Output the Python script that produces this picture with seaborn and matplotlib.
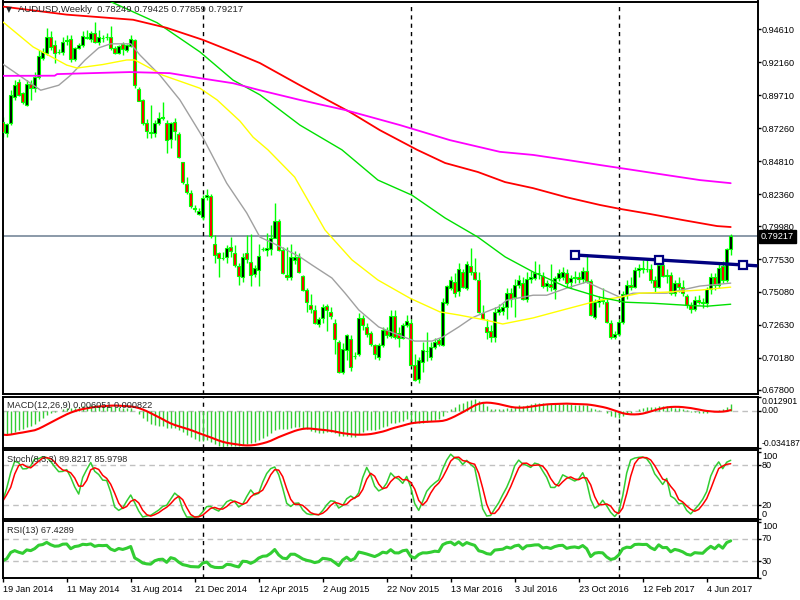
import numpy as np
import pandas as pd
import matplotlib
matplotlib.use("Agg")
import matplotlib.pyplot as plt
import seaborn as sns

# AUDUSD weekly candles, week 0 = 19 Jan 2014
opens = [0.8774, 0.8691, 0.8766, 0.8958, 0.9070, 0.8986, 0.8898, 0.9058, 0.9028, 0.9103,
         0.9245, 0.9287, 0.9402, 0.9345, 0.9290, 0.9295, 0.9375, 0.9387, 0.9237, 0.9320,
         0.9345, 0.9400, 0.9390, 0.9432, 0.9370, 0.9395, 0.9402, 0.9407, 0.9320, 0.9282,
         0.9349, 0.9307, 0.9337, 0.9382, 0.9020, 0.8936, 0.8761, 0.8697, 0.8691, 0.8761,
         0.8798, 0.8766, 0.8648, 0.8773, 0.8679, 0.8472, 0.8310, 0.8245, 0.8131, 0.8088,
         0.8068, 0.8213, 0.8218, 0.7868, 0.7796, 0.7759, 0.7771, 0.7843, 0.7798, 0.7704,
         0.7621, 0.7796, 0.7734, 0.7641, 0.7671, 0.7825, 0.7818, 0.7831, 0.7913, 0.8038,
         0.7823, 0.7634, 0.7616, 0.7746, 0.7766, 0.7626, 0.7521, 0.7412, 0.7374, 0.7269,
         0.7312, 0.7404, 0.7362, 0.7274, 0.7137, 0.6916, 0.7074, 0.7162, 0.7031, 0.7049,
         0.7312, 0.7249, 0.7204, 0.7112, 0.7021, 0.7114, 0.7224, 0.7184, 0.7329, 0.7204,
         0.7169, 0.7259, 0.7280, 0.6965, 0.6861, 0.6989, 0.7069, 0.7024, 0.7102, 0.7149,
         0.7112, 0.7424, 0.7541, 0.7584, 0.7512, 0.7656, 0.7536, 0.7701, 0.7656, 0.7596,
         0.7349, 0.7249, 0.7219, 0.7174, 0.7359, 0.7363, 0.7400, 0.7497, 0.7472, 0.7559,
         0.7572, 0.7459, 0.7602, 0.7609, 0.7647, 0.7630, 0.7552, 0.7567, 0.7530, 0.7609,
         0.7620, 0.7652, 0.7584, 0.7609, 0.7622, 0.7602, 0.7667, 0.7592, 0.7325, 0.7434,
         0.7447, 0.7434, 0.7280, 0.7170, 0.7195, 0.7288, 0.7485, 0.7559, 0.7547, 0.7672,
         0.7684, 0.7677, 0.7682, 0.7597, 0.7542, 0.7709, 0.7627, 0.7634, 0.7497, 0.7577,
         0.7547, 0.7480, 0.7412, 0.7380, 0.7447, 0.7434, 0.7427, 0.7527, 0.7622, 0.7559,
         0.7700, 0.7597, 0.78249]
highs = [0.8807, 0.8767, 0.9008, 0.9083, 0.9094, 0.8994, 0.9083, 0.9084, 0.9145, 0.9307,
         0.9320, 0.9469, 0.9445, 0.9382, 0.9314, 0.9402, 0.9420, 0.9420, 0.9332, 0.9359,
         0.9445, 0.9457, 0.9445, 0.9512, 0.9457, 0.9420, 0.9432, 0.9482, 0.9334, 0.9344,
         0.9370, 0.9354, 0.9420, 0.9387, 0.9034, 0.8942, 0.8797, 0.8899, 0.8787, 0.8848,
         0.8923, 0.8786, 0.8773, 0.8798, 0.8699, 0.8477, 0.8365, 0.8265, 0.8156, 0.8131,
         0.8230, 0.8277, 0.8240, 0.7931, 0.7806, 0.7806, 0.7856, 0.7918, 0.7856, 0.7724,
         0.7796, 0.7931, 0.7938, 0.7706, 0.7863, 0.7843, 0.7943, 0.8006, 0.8170, 0.8048,
         0.7843, 0.7843, 0.7863, 0.7813, 0.7796, 0.7631, 0.7541, 0.7496, 0.7411, 0.7319,
         0.7416, 0.7416, 0.7399, 0.7304, 0.7149, 0.7129, 0.7199, 0.7187, 0.7062, 0.7349,
         0.7339, 0.7274, 0.7219, 0.7124, 0.7129, 0.7249, 0.7249, 0.7374, 0.7374, 0.7249,
         0.7279, 0.7339, 0.7309, 0.7049, 0.7021, 0.7134, 0.7209, 0.7139, 0.7164, 0.7169,
         0.7466, 0.7561, 0.7626, 0.7646, 0.7726, 0.7676, 0.7736, 0.7833, 0.7761, 0.7656,
         0.7409, 0.7309, 0.7259, 0.7399, 0.7416, 0.7426, 0.7536, 0.7536, 0.7606, 0.7636,
         0.7616, 0.7656, 0.7666, 0.7736, 0.7716, 0.7656, 0.7596, 0.7716, 0.7626, 0.7676,
         0.7696, 0.7676, 0.7636, 0.7666, 0.7656, 0.7696, 0.7794, 0.7606, 0.7456, 0.7476,
         0.7536, 0.7466, 0.7299, 0.7219, 0.7309, 0.7516, 0.7596, 0.7616, 0.7696, 0.7716,
         0.7746, 0.7756, 0.7716, 0.7626, 0.7756, 0.7756, 0.7676, 0.7656, 0.7596, 0.7616,
         0.7596, 0.7490, 0.7436, 0.7476, 0.7486, 0.7466, 0.7546, 0.7646, 0.7646, 0.7716,
         0.7736, 0.7835, 0.79425]
lows = [0.8661, 0.8662, 0.8748, 0.8936, 0.8967, 0.8907, 0.8891, 0.8936, 0.8998, 0.9095,
        0.9234, 0.9270, 0.9307, 0.9207, 0.9274, 0.9270, 0.9345, 0.9220, 0.9227, 0.9314,
        0.9332, 0.9387, 0.9370, 0.9357, 0.9345, 0.9370, 0.9382, 0.9307, 0.9274, 0.9274,
        0.9270, 0.9294, 0.9332, 0.9027, 0.8927, 0.8747, 0.8652, 0.8652, 0.8661, 0.8748,
        0.8787, 0.8539, 0.8577, 0.8636, 0.8502, 0.8310, 0.8240, 0.8130, 0.8106, 0.8081,
        0.8043, 0.8193, 0.7913, 0.7721, 0.7621, 0.7746, 0.7721, 0.7771, 0.7696, 0.7559,
        0.7584, 0.7721, 0.7551, 0.7616, 0.7551, 0.7813, 0.7776, 0.7784, 0.7906, 0.7813,
        0.7641, 0.7596, 0.7596, 0.7716, 0.7646, 0.7516, 0.7359, 0.7349, 0.7269, 0.7249,
        0.7279, 0.7219, 0.7309, 0.7044, 0.6906, 0.6901, 0.7001, 0.6921, 0.7008, 0.7029,
        0.7224, 0.7174, 0.7109, 0.7011, 0.7006, 0.7099, 0.7169, 0.7169, 0.7159, 0.7099,
        0.7159, 0.7249, 0.6956, 0.6848, 0.6831, 0.6911, 0.6996, 0.7006, 0.7084, 0.7109,
        0.7104, 0.7409, 0.7521, 0.7467, 0.7479, 0.7536, 0.7526, 0.7631, 0.7596, 0.7349,
        0.7304, 0.7159, 0.7139, 0.7139, 0.7339, 0.7339, 0.7304, 0.7399, 0.7325, 0.7536,
        0.7446, 0.7436, 0.7576, 0.7596, 0.7606, 0.7536, 0.7516, 0.7516, 0.7456, 0.7586,
        0.7596, 0.7546, 0.7536, 0.7576, 0.7576, 0.7576, 0.7576, 0.7329, 0.7309, 0.7396,
        0.7416, 0.7279, 0.7159, 0.7159, 0.7179, 0.7269, 0.7456, 0.7526, 0.7536, 0.7616,
        0.7646, 0.7656, 0.7576, 0.7506, 0.7536, 0.7616, 0.7576, 0.7486, 0.7476, 0.7506,
        0.7476, 0.7390, 0.7349, 0.7370, 0.7416, 0.7389, 0.7396, 0.7496, 0.7526, 0.7536,
        0.7576, 0.7581, 0.77859]
closes = [0.8699, 0.8756, 0.8970, 0.9045, 0.8975, 0.8924, 0.9058, 0.9028, 0.9108, 0.9263,
          0.9295, 0.9407, 0.9332, 0.9282, 0.9294, 0.9370, 0.9379, 0.9237, 0.9320, 0.9345,
          0.9412, 0.9402, 0.9432, 0.9370, 0.9402, 0.9397, 0.9405, 0.9320, 0.9282, 0.9337,
          0.9314, 0.9345, 0.9387, 0.9045, 0.8931, 0.8766, 0.8707, 0.8687, 0.8766, 0.8798,
          0.8806, 0.8641, 0.8761, 0.8706, 0.8514, 0.8327, 0.8252, 0.8148, 0.8128, 0.8113,
          0.8205, 0.8232, 0.7923, 0.7784, 0.7759, 0.7764, 0.7838, 0.7813, 0.7709, 0.7626,
          0.7771, 0.7751, 0.7634, 0.7684, 0.7776, 0.7828, 0.7838, 0.7913, 0.8038, 0.7818,
          0.7646, 0.7616, 0.7766, 0.7766, 0.7659, 0.7521, 0.7434, 0.7379, 0.7279, 0.7304,
          0.7399, 0.7374, 0.7329, 0.7162, 0.6916, 0.7087, 0.7187, 0.6953, 0.7029, 0.7312,
          0.7262, 0.7199, 0.7124, 0.7044, 0.7117, 0.7224, 0.7187, 0.7329, 0.7174, 0.7169,
          0.7259, 0.7289, 0.6965, 0.6853, 0.7001, 0.7074, 0.7071, 0.7099, 0.7139, 0.7124,
          0.7437, 0.7551, 0.7596, 0.7499, 0.7676, 0.7546, 0.7716, 0.7656, 0.7606, 0.7359,
          0.7309, 0.7209, 0.7174, 0.7359, 0.7379, 0.7400, 0.7497, 0.7456, 0.7559, 0.7597,
          0.7459, 0.7602, 0.7617, 0.7647, 0.7652, 0.7552, 0.7577, 0.7542, 0.7609, 0.7647,
          0.7657, 0.7577, 0.7609, 0.7622, 0.7602, 0.7667, 0.7592, 0.7338, 0.7434, 0.7452,
          0.7442, 0.7288, 0.7170, 0.7195, 0.7288, 0.7492, 0.7559, 0.7547, 0.7672, 0.7684,
          0.7677, 0.7682, 0.7597, 0.7542, 0.7709, 0.7627, 0.7634, 0.7497, 0.7577, 0.7547,
          0.7497, 0.7412, 0.7380, 0.7447, 0.7434, 0.7427, 0.7527, 0.7622, 0.7559, 0.7684,
          0.7597, 0.7825, 0.79217]

# moving averages as (week, price) points
ma_gray_w = [0, 9.5, 14, 17, 20.6, 24, 27, 32, 34.3, 39.3, 44.3, 50, 56, 61, 64.3, 67.6,
             74.3, 77.3, 82.3, 85.6, 89, 94, 99, 103, 107.3, 110, 114, 117.3, 120.6, 124,
             126, 132.6, 136, 141, 146, 149.3, 154.3, 157.6, 166, 174.3, 182]
ma_gray_p = [0.9203, 0.9008, 0.9045, 0.9120, 0.9233, 0.9323, 0.9353, 0.9353, 0.9270, 0.9120,
             0.8936, 0.8659, 0.8317, 0.8096, 0.7916, 0.7871, 0.7769, 0.7709, 0.7612, 0.7499,
             0.7375, 0.7248, 0.7188, 0.7143, 0.7143, 0.7173, 0.7248, 0.7315, 0.7357, 0.7397,
             0.7447, 0.7484, 0.7484, 0.7537, 0.7582, 0.7537, 0.7469, 0.7499, 0.7499, 0.7552,
             0.7574]
ma_yellow_w = [0, 7.6, 16, 18.6, 25, 31, 33, 36.8, 40, 49.3, 53.6, 59.3, 62.6, 66.3, 73,
               80.6, 87.3, 93.8, 101.8, 109.3, 113.8, 120.6, 125, 132.6, 141, 149.3, 154.3,
               159.3, 166, 174.3, 182]
ma_yellow_p = [0.9517, 0.9330, 0.9195, 0.9173, 0.9199, 0.9233, 0.9233, 0.9173, 0.9120, 0.9023,
               0.8936, 0.8779, 0.8659, 0.8565, 0.8362, 0.7968, 0.7747, 0.7597, 0.7462, 0.7360,
               0.7338, 0.7300, 0.7270, 0.7315, 0.7382, 0.7447, 0.7469, 0.7499, 0.7507, 0.7522,
               0.7544]
ma_green_w = [22, 26.8, 38.6, 49.3, 57.6, 64.3, 74.3, 84.8, 93.8, 102.3, 110.6, 118.8, 125.6,
              132.6, 141, 149.3, 155.6, 162.6, 171, 176, 182]
ma_green_p = [0.9724, 0.9669, 0.9510, 0.9293, 0.9083, 0.8974, 0.8749, 0.8565, 0.8340, 0.8228,
              0.8058, 0.7916, 0.7769, 0.7657, 0.7544, 0.7469, 0.7432, 0.7424, 0.7409, 0.7402,
              0.7417]
ma_red_w = [0, 16, 32.6, 41, 50, 57.6, 64.3, 74.3, 86.8, 94.3, 103.6, 110.6, 118.8, 125.6,
            132.6, 141, 149.3, 154.3, 161.8, 170, 178.6, 182]
ma_red_p = [0.9630, 0.9570, 0.9532, 0.9472, 0.9383, 0.9293, 0.9210, 0.9045, 0.8846, 0.8711,
            0.8565, 0.8467, 0.8400, 0.8325, 0.8280, 0.8212, 0.8155, 0.8126, 0.8088, 0.8043,
            0.7998, 0.7991]
ma_magenta_w = [0, 13, 13.6, 31.8, 41.8, 49.3, 57.6, 64.3, 74.3, 85.6, 99.3, 111.8, 124.3,
                132.6, 141, 149.3, 157.6, 166, 174.3, 182]
ma_magenta_p = [0.9115, 0.9116, 0.9128, 0.9143, 0.9135, 0.9098, 0.9060, 0.9008, 0.8936, 0.8861,
                0.8749, 0.8637, 0.8550, 0.8527, 0.8490, 0.8452, 0.8415, 0.8377, 0.8340, 0.8317]

trend_w = [143.1, 164.1, 185.1]
trend_p = [0.7783, 0.7746, 0.7709]
last_price = 0.79217

price_ticks = [0.94610, 0.92160, 0.89710, 0.87260, 0.84810, 0.82360,
               0.79980, 0.77530, 0.75080, 0.72630, 0.70180, 0.67800]
date_weeks = [0, 16, 32, 48, 64, 80, 96, 112, 128, 144, 160, 176]
date_labels = ["19 Jan 2014", "11 May 2014", "31 Aug 2014", "21 Dec 2014", "12 Apr 2015",
               "2 Aug 2015", "22 Nov 2015", "13 Mar 2016", "3 Jul 2016", "23 Oct 2016",
               "12 Feb 2017", "4 Jun 2017"]
separator_weeks = [50, 102, 154]

# indicator state carried in from before the first visible week (2013 downtrend)
macd_seed_fast, macd_seed_slow = 0.9100, 0.9300
rsi_seed_gain, rsi_seed_loss = 0.0030, 0.0060

o, h, l, c = (np.array(v) for v in (opens, highs, lows, closes))
weeks = np.arange(len(c))


def ema(values, start, n):
    k = 2.0 / (n + 1)
    out, e = [], start
    for v in values:
        e = e + k * (v - e)
        out.append(e)
    return np.array(out)


macd = ema(c, macd_seed_fast, 12) - ema(c, macd_seed_slow, 26)
macd_sig = pd.Series(macd).rolling(9, min_periods=1).mean().values

cs, hs, ls = pd.Series(c), pd.Series(h), pd.Series(l)
ll = ls.rolling(8, min_periods=1).min()
hh = hs.rolling(8, min_periods=1).max()
stoch_k = 100 * (cs - ll).rolling(3, min_periods=1).sum() / (hh - ll).rolling(3, min_periods=1).sum()
stoch_d = stoch_k.rolling(3, min_periods=1).mean()

delta = np.diff(np.concatenate([[o[0]], c]))
g, lo = rsi_seed_gain, rsi_seed_loss
rsi = []
for d in delta:
    g = (g * 12 + max(d, 0)) / 13
    lo = (lo * 12 + max(-d, 0)) / 13
    rsi.append(100 - 100 / (1 + g / lo))
rsi = np.array(rsi)

sns.set_theme(style="white", rc={"axes.edgecolor": "black", "axes.linewidth": 1.4})
plt.rcParams["font.family"] = ["Liberation Sans", "DejaVu Sans"]
FS = 6.6

fig = plt.figure(figsize=(8, 6), dpi=100)
fig.patch.set_facecolor("white")
L, Wd = 2.5 / 800, 755 / 800
ax_p = fig.add_axes([L, 206 / 600, Wd, 392.5 / 600])
ax_m = fig.add_axes([L, 151.7 / 600, Wd, 51.6 / 600])
ax_s = fig.add_axes([L, 80.7 / 600, Wd, 69.3 / 600])
ax_r = fig.add_axes([L, 21.7 / 600, Wd, 57.6 / 600])
x_right = 188.7

# price panel
ax_p.axhline(last_price, color="#778899", lw=1.2, zorder=1)
ax_p.vlines(weeks, l, h, color="#00FF00", lw=1, zorder=2)
body = np.maximum(np.abs(c - o), 0.0001)
ax_p.bar(weeks, body, bottom=np.minimum(o, c), width=0.78,
         color=np.where(c >= o, "black", "red"), edgecolor="#00FF00", linewidth=0.8, zorder=3)
for mw, mp, col, lw in [(ma_gray_w, ma_gray_p, "#A0A0A0", 1.0),
                        (ma_yellow_w, ma_yellow_p, "#FFFF00", 1.0),
                        (ma_green_w, ma_green_p, "#00E000", 1.0),
                        (ma_red_w, ma_red_p, "#FF0000", 1.3),
                        (ma_magenta_w, ma_magenta_p, "#FF00FF", 1.3)]:
    sns.lineplot(x=mw, y=mp, ax=ax_p, color=col, linewidth=lw, estimator=None, zorder=4)
slope = (trend_p[-1] - trend_p[0]) / (trend_w[-1] - trend_w[0])
ax_p.plot([trend_w[0], x_right], [trend_p[0], trend_p[0] + slope * (x_right - trend_w[0])],
          color="#000080", lw=2.4, zorder=5, solid_capstyle="butt")
ax_p.plot(trend_w, trend_p, "s", ms=5.5, mfc="white", mec="#000080", mew=1.6, zorder=6)
ax_p.set_ylim(0.67495, 0.96677)
ax_p.set_yticks(price_ticks)
ax_p.set_yticklabels([f"{t:.5f}" for t in price_ticks])
ax_p.annotate(f"{last_price:.5f}", xy=(1, last_price), xycoords=ax_p.get_yaxis_transform(),
              xytext=(2.4, 0), textcoords="offset points", va="center", ha="left",
              color="white", fontsize=FS,
              bbox=dict(boxstyle="square,pad=0.2", fc="black", ec="black"))

# MACD panel
ax_m.axhline(0, color="#C0C0C0", lw=1, ls=(0, (4, 3)))
ax_m.vlines(weeks, 0, macd, color="#32CD32", lw=1)
sns.lineplot(x=weeks, y=macd_sig, ax=ax_m, color="red", linewidth=1.5, estimator=None)
ax_m.set_ylim(-0.034187, 0.012901)
ax_m.set_yticks([0.012901, 0.0, -0.034187])
ax_m.set_yticklabels(["0.012901", "0.00", "-0.034187"])

# Stochastic panel
for lev in (20, 80):
    ax_s.axhline(lev, color="#C0C0C0", lw=1, ls=(0, (4, 3)))
sns.lineplot(x=weeks, y=stoch_k.values, ax=ax_s, color="#32CD32", linewidth=1.1, estimator=None)
sns.lineplot(x=weeks, y=stoch_d.values, ax=ax_s, color="red", linewidth=1.1, estimator=None)
ax_s.set_ylim(-1.05, 103)
ax_s.set_yticks([100, 80, 20, 0])
ax_s.set_yticklabels(["100", "80", "20", "0"])

# RSI panel
for lev in (30, 70):
    ax_r.axhline(lev, color="#C0C0C0", lw=1, ls=(0, (4, 3)))
sns.lineplot(x=weeks, y=rsi, ax=ax_r, color="#32CD32", linewidth=2.2, estimator=None)
ax_r.set_ylim(2.3, 102.3)
ax_r.set_yticks([100, 70, 30, 0])
ax_r.set_yticklabels(["100", "70", "30", "0"])

for ax in (ax_p, ax_m, ax_s, ax_r):
    ax.set_xlim(-0.05, x_right)
    ax.set_xlabel("")
    ax.set_ylabel("")
    ax.set_facecolor("white")
    for w in separator_weeks:
        ax.axvline(w, color="black", lw=1, ls=(0, (3, 3)), zorder=1)
    ax.yaxis.tick_right()
    ax.tick_params(axis="y", right=True, left=False, direction="out", length=2.2, width=1,
                   pad=1, labelsize=FS, colors="black")
    ax.grid(False)
    for s in ax.spines.values():
        s.set_color("black")
        s.set_linewidth(1.4)
    if ax is not ax_r:
        ax.set_xticks([])

ax_m.tick_params(axis="y", labelsize=6.2)
for ax, vas in [(ax_m, ["top", "center", "bottom"]),
                (ax_s, ["top", "center", "center", "bottom"]),
                (ax_r, ["top", "center", "center", "bottom"])]:
    for lbl, va in zip(ax.get_yticklabels(), vas):
        lbl.set_va(va)

ax_r.set_xticks(date_weeks)
ax_r.set_xticklabels(date_labels, ha="left")
ax_r.tick_params(axis="x", bottom=True, direction="out", length=3, width=1, pad=1.5,
                 labelsize=FS, colors="black")

fig.text(6 / 800, 1 - 10 / 600, "\u25bc", fontsize=5.5, family="DejaVu Sans", va="center")
fig.text(18 / 800, 1 - 10 / 600, "AUDUSD,Weekly  0.78249 0.79425 0.77859 0.79217",
         fontsize=6.8, va="center", ha="left")
fig.text(6.7 / 800, 1 - 405 / 600, "MACD(12,26,9) 0.006051 0.000822", fontsize=FS, va="center")
fig.text(6.7 / 800, 1 - 459.3 / 600, "Stoch(8,3,3) 89.8217 85.9798", fontsize=FS, va="center")
fig.text(6.7 / 800, 1 - 530.7 / 600, "RSI(13) 67.4289", fontsize=FS, va="center")

fig.savefig("out.png", dpi=100)
